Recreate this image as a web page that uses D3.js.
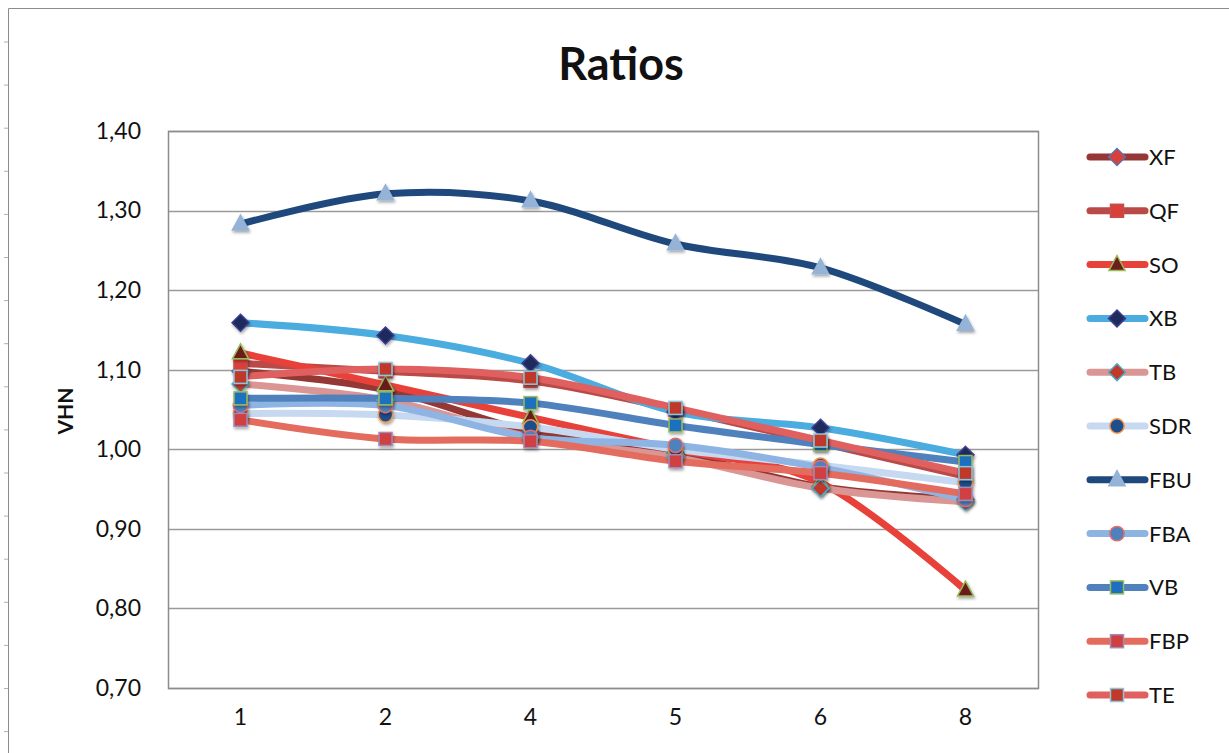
<!DOCTYPE html>
<html><head><meta charset="utf-8">
<script src="https://cdn.jsdelivr.net/npm/d3@7"></script>
<style>body{margin:0;background:#fff;} svg{display:block;}</style>
</head><body>
<svg id="c" width="1229" height="753"></svg>
<script>
const categories = ["1","2","4","5","6","8"];
const yTicks = [0.70,0.80,0.90,1.00,1.10,1.20,1.30,1.40];
const seriesNames = ["XF","QF","SO","XB","TB","SDR","FBU","FBA","VB","FBP","TE"];
const XF  = [1.098,1.075,1.022,0.995,0.953,0.937];
const QF  = [1.108,1.098,1.086,1.050,1.008,0.966];
const SO  = [1.121,1.081,1.040,1.000,0.958,0.823];
const XB  = [1.159,1.143,1.108,1.047,1.027,0.993];
const TB  = [1.082,1.062,1.015,0.990,0.951,0.934];
const SDR = [1.045,1.043,1.028,1.000,0.980,0.958];
const FBU = [1.283,1.321,1.312,1.258,1.228,1.157];
const FBA = [1.055,1.055,1.015,1.005,0.977,0.937];
const VB  = [1.064,1.064,1.058,1.030,1.006,0.984];
const FBP = [1.037,1.013,1.010,0.985,0.970,0.944];
const TE  = [1.091,1.101,1.090,1.052,1.011,0.970];
const seriesValues = [XF,QF,SO,XB,TB,SDR,FBU,FBA,VB,FBP,TE];

const styles = {
  XF:{line:"#953735",fill:"#d9403a",stroke:"#5a72a8",shape:"diamond"},
  QF:{line:"#b94a48",fill:"#d9403a",stroke:"#c0504d",shape:"square"},
  SO:{line:"#e8413a",fill:"#6b1e1e",stroke:"#9bbb59",shape:"triangle"},
  XB:{line:"#4bacdf",fill:"#1f2a5c",stroke:"#3c3c8c",shape:"diamond"},
  TB:{line:"#d99694",fill:"#c0392b",stroke:"#4bacc6",shape:"diamond"},
  SDR:{line:"#c6d9f1",fill:"#1f4e8c",stroke:"#f79646",shape:"circle"},
  FBU:{line:"#1f497d",fill:"#95b3d7",stroke:"#95b3d7",shape:"triangle"},
  FBA:{line:"#8eb4e3",fill:"#4f81bd",stroke:"#e46c6c",shape:"circle"},
  VB:{line:"#4f81bd",fill:"#1f6fc0",stroke:"#9bbb59",shape:"square"},
  FBP:{line:"#e46c5f",fill:"#d04040",stroke:"#a08ab8",shape:"square"},
  TE:{line:"#e06060",fill:"#c0392b",stroke:"#8cc6d9",shape:"square"}
};

const svg = d3.select("#c");
const font = "Lato, 'Open Sans', sans-serif";
const L=168, R=1038, T=131, B=688;

const defs = svg.append("defs");
const f = defs.append("filter").attr("id","sh").attr("x","-50%").attr("y","-50%").attr("width","200%").attr("height","200%");
f.append("feDropShadow").attr("dx",1).attr("dy",2).attr("stdDeviation",1.5).attr("flood-color","#000").attr("flood-opacity",0.35);

// outer frame
svg.append("path").attr("d","M8.5,753 V8.5 H1229").attr("fill","none").attr("stroke","#8c8c8c").attr("stroke-width",1);
svg.append("g").selectAll("line").data(d3.range(17)).join("line")
  .attr("x1",4).attr("x2",8).attr("y1",d=>42+d*43.1).attr("y2",d=>42+d*43.1)
  .attr("stroke","#b0b0b0").attr("stroke-width",1);

const x = d3.scaleBand().domain(categories).range([L,R]).padding(0);
const y = d3.scaleLinear().domain([0.70,1.40]).range([B,T]);

// gridlines
svg.append("g").selectAll("line").data(yTicks).join("line")
  .attr("x1",L).attr("x2",R).attr("y1",d=>Math.round(y(d))+0.5).attr("y2",d=>Math.round(y(d))+0.5)
  .attr("stroke","#9a9a9a").attr("stroke-width",1.5);
svg.append("rect").attr("x",L+0.5).attr("y",T+0.5).attr("width",R-L).attr("height",B-T)
  .attr("fill","none").attr("stroke","#8c8c8c").attr("stroke-width",1.5);

// y axis labels
const yAxis = d3.axisLeft(y).tickValues(yTicks).tickSize(0).tickPadding(0)
  .tickFormat(d=>d3.format(".2f")(d).replace(".",","));
const ya = svg.append("g").attr("transform",`translate(${141},0)`).call(yAxis);
ya.select(".domain").remove();
ya.selectAll("text").attr("font-family",font).attr("font-size",23).attr("fill","#111");

// x axis labels
const xAxis = d3.axisBottom(x).tickSize(0).tickPadding(0);
const xa = svg.append("g").attr("transform",`translate(0,${B+21})`).call(xAxis);
xa.select(".domain").remove();
xa.selectAll("text").attr("font-family",font).attr("font-size",23).attr("fill","#111");

// title
svg.append("text").attr("x",621).attr("y",80).attr("text-anchor","middle")
  .attr("font-family",font).attr("font-weight","bold").attr("font-size",45).attr("fill","#111").text("Ratios");
svg.append("text").attr("transform","translate(73,411) rotate(-90)").attr("text-anchor","middle")
  .attr("font-family",font).attr("font-weight","bold").attr("font-size",21).attr("fill","#111").text("VHN");

const cx = c => x(c) + x.bandwidth()/2;
const line = d3.line().x(d=>cx(d.c)).y(d=>y(d.v)).curve(d3.curveCardinal.tension(0));

const data = seriesNames.map((n,i)=>({name:n, pts: categories.map((c,j)=>({c, v: seriesValues[i][j]}))}));

const plot = svg.append("g");
plot.selectAll("path.l").data(data).join("path").attr("class","l")
  .attr("d",d=>line(d.pts)).attr("fill","none")
  .attr("stroke",d=>styles[d.name].line).attr("stroke-width",7)
  .attr("stroke-linecap","round").attr("stroke-linejoin","round");

function marker(g, shape, st, s){
  let el;
  if(shape==="circle") el = g.append("circle").attr("r",s*0.55);
  else if(shape==="square") el = g.append("rect").attr("x",-s/2).attr("y",-s/2).attr("width",s).attr("height",s);
  else if(shape==="diamond") el = g.append("path").attr("d",`M0,${-s*0.65}L${s*0.65},0L0,${s*0.65}L${-s*0.65},0Z`);
  else el = g.append("path").attr("d",`M0,${-s*0.7}L${s*0.62},${s*0.45}L${-s*0.62},${s*0.45}Z`);
  el.attr("fill",st.fill).attr("stroke",st.stroke).attr("stroke-width",1.5);
  return el;
}

data.forEach(d=>{
  const st = styles[d.name];
  d.pts.forEach(p=>{
    const g = plot.append("g").attr("transform",`translate(${cx(p.c)},${y(p.v)})`).attr("filter","url(#sh)");
    marker(g, st.shape, st, 13);
  });
});

// legend
const legY0 = 157, legStep = 53.8;
const leg = svg.append("g");
seriesNames.forEach((n,i)=>{
  const st = styles[n];
  const yy = legY0 + i*legStep;
  leg.append("line").attr("x1",1090).attr("x2",1145).attr("y1",yy).attr("y2",yy)
    .attr("stroke",st.line).attr("stroke-width",7).attr("stroke-linecap","round");
  const g = leg.append("g").attr("transform",`translate(1117,${yy})`);
  marker(g, st.shape, st, 13);
  leg.append("text").attr("x",1149).attr("y",yy+8).attr("font-family",font).attr("font-size",22)
    .attr("fill","#111").text(n);
});
</script>
</body></html>
